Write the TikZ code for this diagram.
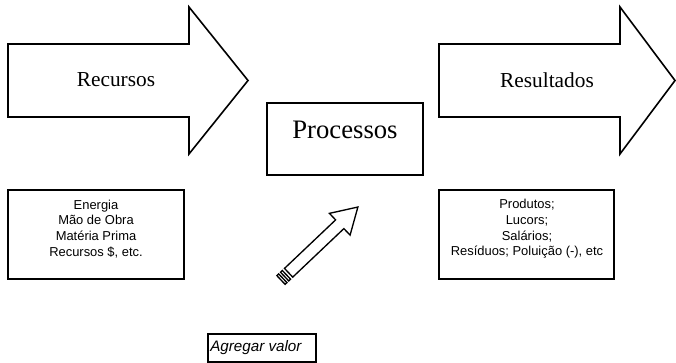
\documentclass[tikz,border=0pt]{standalone}
\usepackage{fontspec}
\setmainfont{Liberation Serif}
\setsansfont{Liberation Sans}
\tikzset{
  bigarrow/.style={line width=1.2pt, line join=miter},
  listbox/.style={line width=1.2pt},
  listtext/.style={align=center, inner sep=0pt, font=\sffamily\fontsize{9.7}{11.8}\selectfont},
  hollow/.style={line width=1pt, line join=miter}
}
\begin{document}
\begin{tikzpicture}[x=0.75pt,y=-0.75pt]
	\useasboundingbox (0,0) rectangle (676,363);

	% Recursos
	\draw[bigarrow] (8,44) -- (189,44) -- (189,7) -- (248,80.5) -- (189,154) -- (189,117) -- (8,117) -- cycle;
	\node (recursos) at (116,80) {\fontsize{16}{19}\selectfont Recursos};

	% Resultados
	\draw[bigarrow] (439,44) -- (620,44) -- (620,7) -- (675,80.5) -- (620,154) -- (620,117) -- (439,117) -- cycle;
	\node (resultados) at (547,80) {\fontsize{16}{19}\selectfont Resultados};

	% Processos
	\draw[listbox] (267,103) rectangle (423,175);
	\node (processos) at (345,130) {\fontsize{20}{24}\selectfont Processos};

	% entradas e saidas
	\draw[listbox] (8,190) rectangle (184,279);
	\node[listtext] (entradas) at (96,229) {Energia\\Mão de Obra\\Matéria Prima\\Recursos \$, etc.};
	\draw[listbox] (439,190) rectangle (614,279);
	\node[listtext] (saidas) at (527,229) {Produtos;\\Lucors;\\Salários;\\Resíduos; Poluição (-), etc};

	% seta listrada
	\begin{scope}[shift={(281,280)}, rotate=43.5]
		\draw[hollow] (0,-6) rectangle (2.5,6);
		\draw[hollow] (5,-6) rectangle (7.5,6);
		\draw[hollow] (10.5,-6) -- (81,-6) -- (81,-15) -- (106,0) -- (81,15) -- (81,6) -- (10.5,6) -- cycle;
	\end{scope}

	% Agregar valor
	\draw[line width=0.8pt] (208,334) rectangle (316,362);
	\node[anchor=west, inner sep=0pt, font=\sffamily\itshape\fontsize{11.4}{13}\selectfont] (agregar) at (210,348) {Agregar valor};

\end{tikzpicture}
\end{document}
